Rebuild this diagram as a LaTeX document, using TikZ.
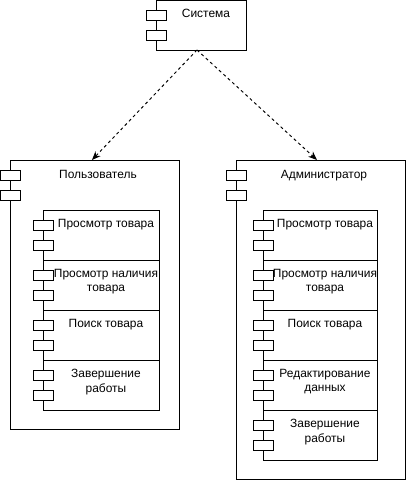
\documentclass[tikz,border=0pt]{standalone}
\usepackage{fontspec}
\setmainfont{Liberation Sans}
\usetikzlibrary{arrows.meta}
\begin{document}
\begin{tikzpicture}[x=0.02cm,y=-0.02cm,line width=0.55pt,
  box/.style={draw,anchor=north west,inner sep=0pt,outer sep=0pt},
  port/.style={draw,fill=white,anchor=north west,inner sep=0pt,minimum width=0.4cm,minimum height=0.2cm},
  title/.style={anchor=north,inner sep=0pt,align=center,font=\fontsize{6.8}{8.4}\selectfont},
  link/.style={dash pattern=on 1.7pt off 1.7pt,-{Stealth[length=5pt,width=4pt]}}]
\useasboundingbox (0,0) rectangle (407,481);
\node[box,minimum width=1.82cm,minimum height=0.99cm,
  label={[title,xshift=0.09cm,yshift=-0.17cm]north:Система}] (sys) at (156,0.5) {};
\node[port] (sysa) at (146,10) {};
\node[port] (sysb) at (146,30) {};
\node[box,minimum width=3.4cm,minimum height=5.4cm,
  label={[title,xshift=0.06cm,yshift=-0.19cm]north:Пользователь}] (user) at (10,160) {};
\node[port] (usera) at (0.5,170) {};
\node[port] (userb) at (0.5,190) {};
\node[box,minimum width=3.4cm,minimum height=6.4cm,
  label={[title,xshift=0.06cm,yshift=-0.19cm]north:Администратор}] (admin) at (236,160) {};
\node[port] (admina) at (226,170) {};
\node[port] (adminb) at (226,190) {};
\foreach \txt [count=\i] in {Просмотр товара,{Просмотр наличия\\товара},Поиск товара,{Завершение\\работы}} {
  \node[box,minimum width=2.34cm,minimum height=1cm,
    label={[title,xshift=0.09cm,yshift=-0.17cm]north:\txt}] (u\i) at (43,160+50*\i) {};
  \node[port] (u\i a) at (33,170+50*\i) {};
  \node[port] (u\i b) at (33,190+50*\i) {};
}
\foreach \txt [count=\i] in {Просмотр товара,{Просмотр наличия\\товара},Поиск товара,{Редактирование\\данных},{Завершение\\работы}} {
  \node[box,minimum width=2.3cm,minimum height=1cm,
    label={[title,xshift=0.09cm,yshift=-0.17cm]north:\txt}] (a\i) at (263,160+50*\i) {};
  \node[port] (a\i a) at (253,170+50*\i) {};
  \node[port] (a\i b) at (253,190+50*\i) {};
}
\draw[link] ([xshift=-0.09cm]sys.south) -- ([xshift=-0.06cm]user.north);
\draw[link] ([xshift=-0.09cm]sys.south) -- ([xshift=-0.08cm]admin.north);
\end{tikzpicture}
\end{document}
